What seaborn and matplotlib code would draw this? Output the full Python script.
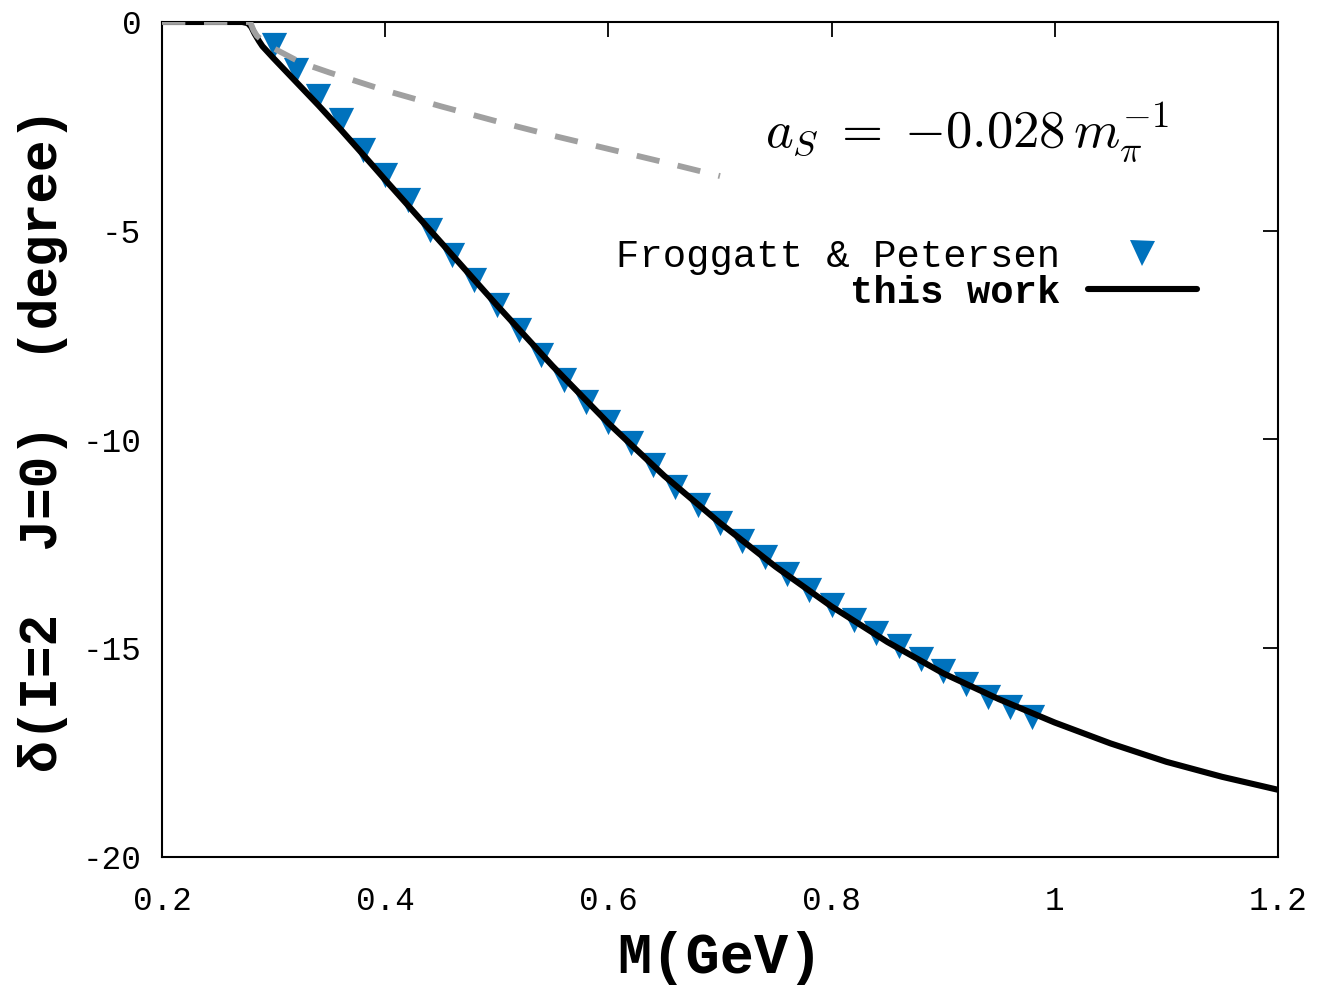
import numpy as np
import pandas as pd
import matplotlib
matplotlib.use("Agg")
import matplotlib.pyplot as plt
import seaborn as sns
from matplotlib.lines import Line2D

# ---- data ----
fp_mass = [0.30, 0.32, 0.34, 0.36, 0.38, 0.40, 0.42, 0.44, 0.46, 0.48,
           0.50, 0.52, 0.54, 0.56, 0.58, 0.60, 0.62, 0.64, 0.66, 0.68,
           0.70, 0.72, 0.74, 0.76, 0.78, 0.80, 0.82, 0.84, 0.86, 0.88,
           0.90, 0.92, 0.94, 0.96, 0.98]
fp_phase = [-0.55, -1.15, -1.77, -2.35, -3.07, -3.66, -4.26, -4.98, -5.58, -6.18,
            -6.78, -7.38, -7.98, -8.57, -9.10, -9.58, -10.08, -10.61, -11.14, -11.57,
            -12.00, -12.43, -12.81, -13.22, -13.60, -13.96, -14.32, -14.63, -14.95, -15.26,
            -15.54, -15.86, -16.17, -16.41, -16.65]

tw_mass = [0.20, 0.25, 0.272, 0.277, 0.280, 0.283, 0.287, 0.29, 0.30, 0.32, 0.34, 0.36, 0.38, 0.40,
           0.45, 0.50, 0.55, 0.60, 0.65, 0.70, 0.75, 0.80, 0.85, 0.90, 0.95,
           1.00, 1.05, 1.10, 1.15, 1.20]
tw_phase = [0.0, 0.0, 0.0, -0.03, -0.12, -0.28, -0.46, -0.58, -0.87, -1.43, -1.99, -2.57, -3.17, -3.78,
            -5.28, -6.78, -8.24, -9.61, -10.87, -12.00, -13.05, -14.00, -14.85, -15.60, -16.22,
            -16.78, -17.28, -17.72, -18.08, -18.39]

sl_mass = [0.20, 0.25, 0.279, 0.282, 0.285, 0.29, 0.30, 0.325, 0.35, 0.40, 0.45,
           0.50, 0.55, 0.60, 0.65, 0.70]
sl_phase = [0.0, 0.0, 0.0, -0.20, -0.33, -0.45, -0.63, -0.98, -1.21, -1.64, -2.02,
            -2.38, -2.72, -3.04, -3.36, -3.69]

x_ticks = [0.2, 0.4, 0.6, 0.8, 1.0, 1.2]
x_ticklabels = ["0.2", "0.4", "0.6", "0.8", "1", "1.2"]
y_ticks = [0, -5, -10, -15, -20]
y_ticklabels = ["0", "-5", "-10", "-15", "-20"]

fp_df = pd.DataFrame({"M": fp_mass, "delta": fp_phase})
tw_df = pd.DataFrame({"M": tw_mass, "delta": tw_phase})
sl_df = pd.DataFrame({"M": sl_mass, "delta": sl_phase})

sns.set_style("white")
plt.rcParams["font.family"] = ["Liberation Mono", "DejaVu Sans Mono"]
plt.rcParams["mathtext.fontset"] = "cm"
plt.rcParams["axes.unicode_minus"] = False
plt.rcParams["text.color"] = "black"
plt.rcParams["axes.labelcolor"] = "black"
plt.rcParams["xtick.color"] = "black"
plt.rcParams["ytick.color"] = "black"

fig = plt.figure(figsize=(13.23, 9.91), dpi=100)
ax = fig.add_axes([162/1323, 1-857/991, (1278-162)/1323, (857-22)/991])

blue = "#0072bd"
sns.lineplot(data=tw_df, x="M", y="delta", ax=ax, color="black", lw=4.4,
             sort=False, estimator=None, zorder=3)
sns.lineplot(data=sl_df, x="M", y="delta", ax=ax, color="#a0a0a0", lw=4.2,
             sort=False, estimator=None, zorder=4, dashes=False)
ax.lines[-1].set_dashes([4.0, 3.2])
sns.scatterplot(data=fp_df, x="M", y="delta", ax=ax, marker="v", s=330,
                color=blue, linewidth=0, zorder=2)

ax.set_xlim(0.2, 1.2)
ax.set_ylim(-20, 0)
ax.set_xticks(x_ticks)
ax.set_xticklabels(x_ticklabels)
ax.set_yticks(y_ticks)
ax.set_yticklabels(y_ticklabels)
ax.tick_params(direction="in", length=11, width=1.3, top=True, right=True,
               labelsize=23.5, colors="black")
ax.tick_params(axis="x", pad=21)
ax.tick_params(axis="y", pad=15)
for s in ax.spines.values():
    s.set_linewidth(1.5)
    s.set_color("black")

ax.set_xlabel("M(GeV)", fontsize=41, fontweight="bold", labelpad=10)
ax.set_ylabel("δ(I=2  J=0)  (degree)", fontsize=38, fontweight="bold", labelpad=10)

ax.text(0.540, 0.867, r"$a_S\;=\;{-}0.028\,m_\pi^{-1}$", transform=ax.transAxes,
        fontsize=38, ha="left", va="center")

handles = [Line2D([], [], marker="v", ls="none", color=blue, markersize=18, markeredgewidth=0),
           Line2D([], [], color="black", lw=4.4)]
leg = ax.legend(handles, ["Froggatt & Petersen", "this work"], loc="center right",
                bbox_to_anchor=(0.927, 0.697), frameon=False, markerfirst=False,
                fontsize=28, handlelength=2.8, handletextpad=0.7, labelspacing=0.0,
                borderpad=0, borderaxespad=0)
leg.get_texts()[1].set_fontweight("bold")

fig.savefig("out.png", dpi=100)
